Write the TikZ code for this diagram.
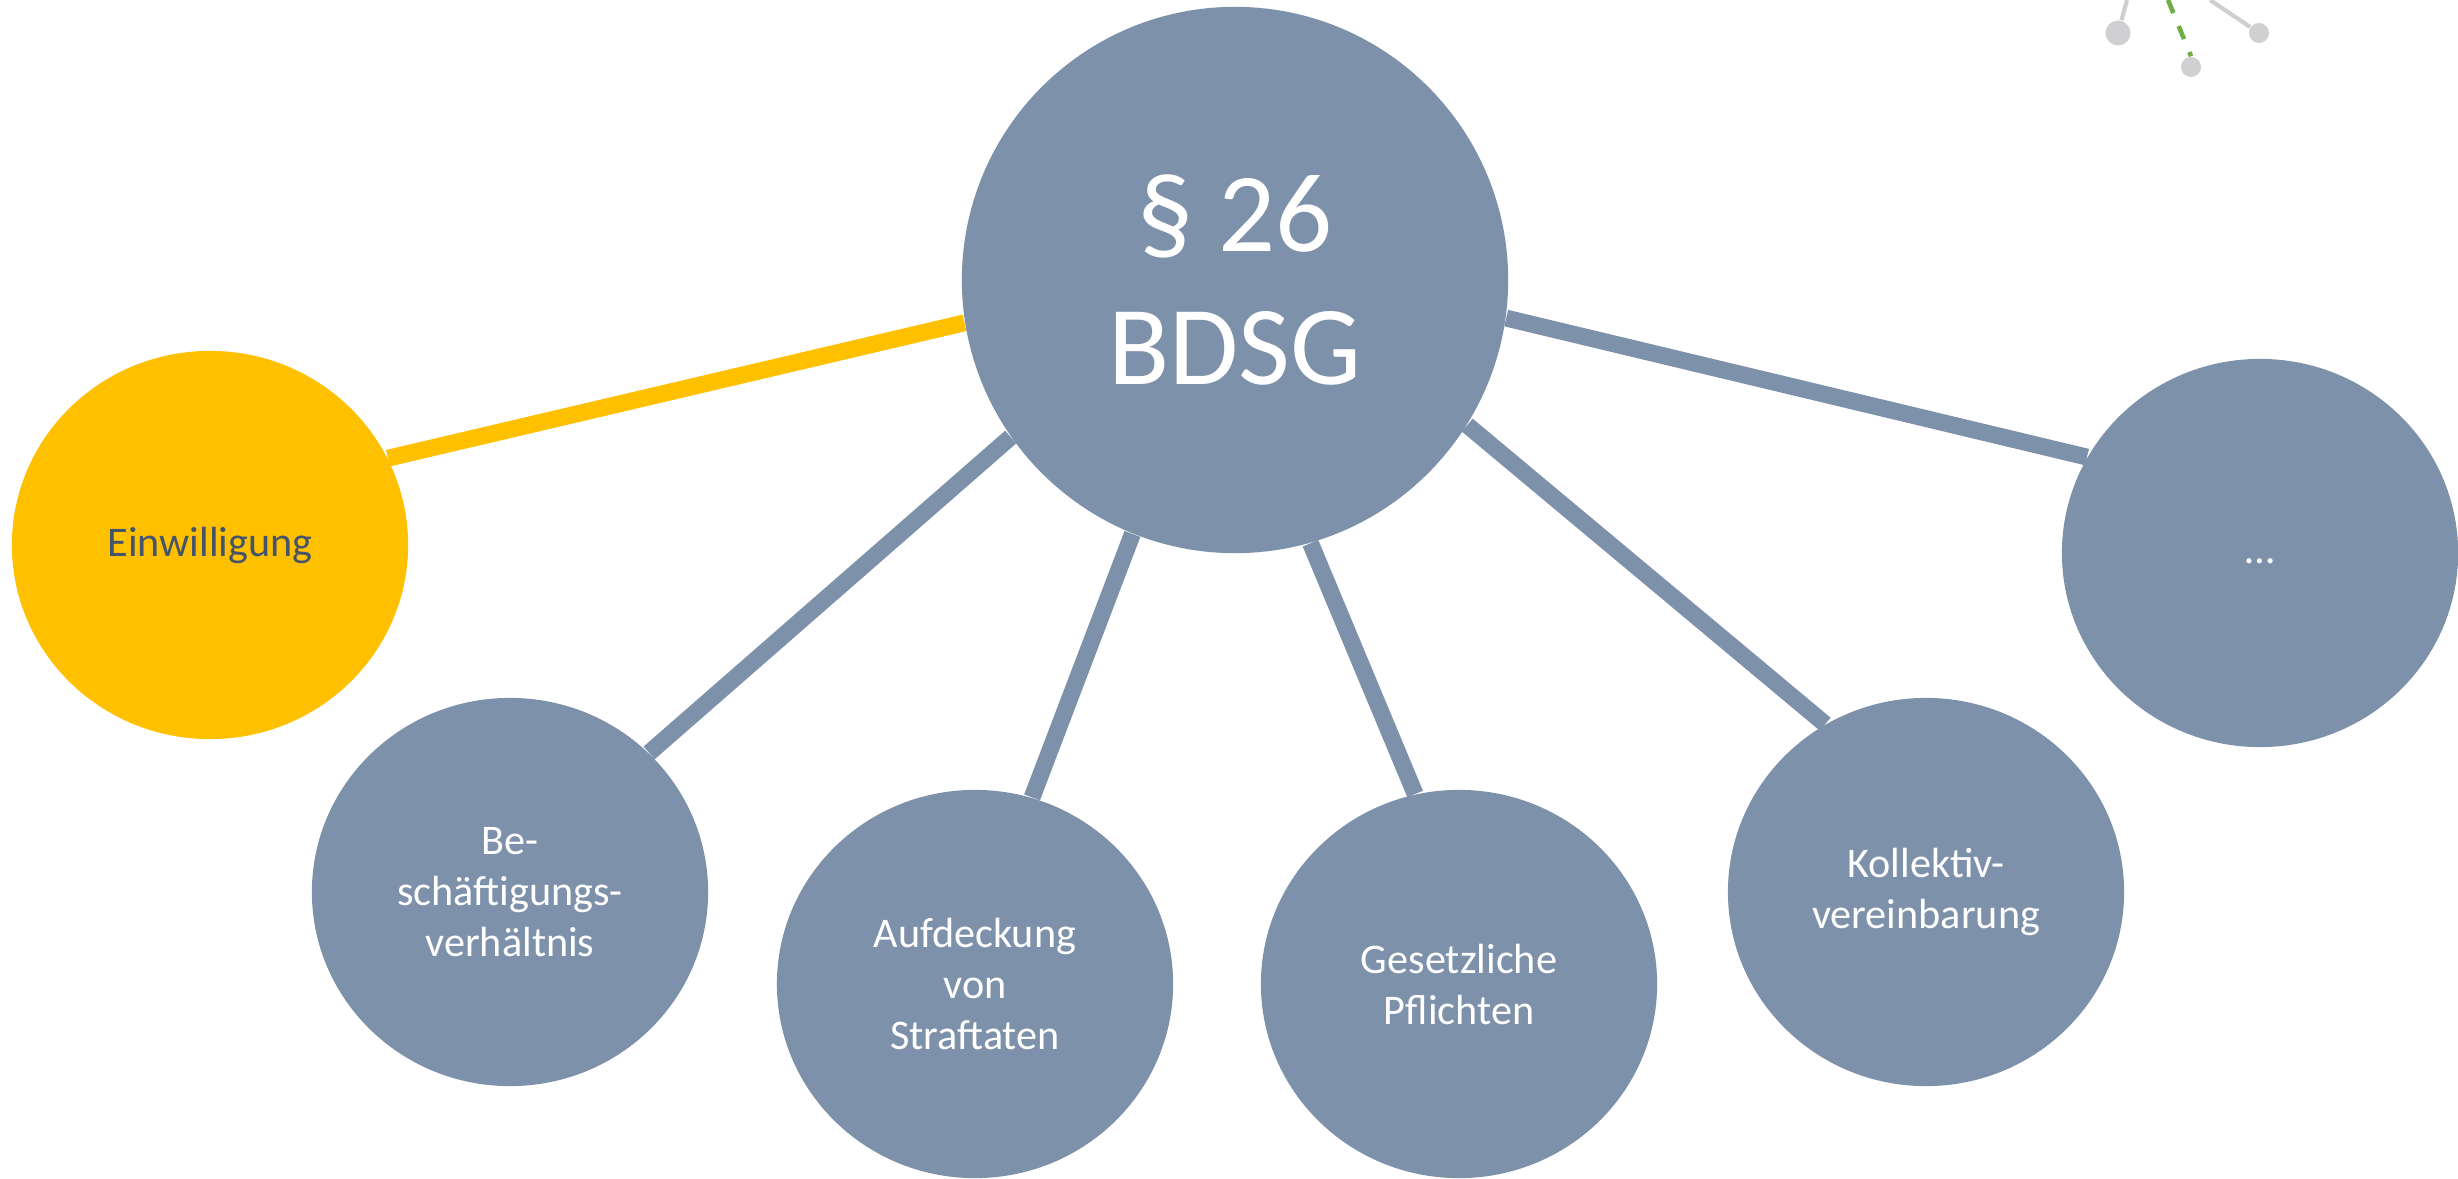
\documentclass[tikz,border=0pt]{standalone}
\usepackage{fontspec}
\setmainfont{Carlito}
\usetikzlibrary{shapes.geometric}
\pgfdeclarelayer{bg}
\pgfdeclarelayer{base}
\pgfsetlayers{base,bg,main}
\definecolor{slate}{HTML}{7E91AA}
\definecolor{gold}{HTML}{FFC000}
\definecolor{darktext}{HTML}{44546A}
\definecolor{decogrey}{HTML}{D0D0D2}
\definecolor{decogreen}{HTML}{70AD47}
\tikzset{
  bubble/.style={ellipse, inner sep=0pt, minimum width=3.96cm, minimum height=3.88cm,
     fill=slate, text=white, align=center, font=\fontsize{12}{14.5}\selectfont},
  link/.style={line width=4.8pt, draw=slate},
  deco/.style={circle, fill=decogrey, inner sep=0pt},
}
\begin{document}
\begin{tikzpicture}[x=0.01cm,y=-0.01cm]
\useasboundingbox (0,0) rectangle (2458,1179);
\begin{pgfonlayer}{base}
\fill[white] (0,0) rectangle (2458,1179);
\end{pgfonlayer}
% central node
\node[circle, fill=slate, inner sep=0pt, minimum size=5.46cm, text=white, align=center,
      font=\fontsize{32}{40}\selectfont] (bdsg) at (1235,280) {\S\ 26\\[-2pt]BDSG};
% surrounding nodes
\node[bubble, fill=gold, text=darktext] (einw) at (210,545) {Einwilligung};
\node[bubble] (besch) at (510,892) {Be-\\schäftigungs-\\verhältnis};
\node[bubble] (aufd) at (975,984) {Aufdeckung\\von\\Straftaten};
\node[bubble] (ges) at (1459,984) {Gesetzliche\\Pflichten};
\node[bubble] (koll) at (1926,892) {Kollektiv-\\vereinbarung};
\node[bubble] (more) at (2260,553) {\strut\dots};
% connectors
\begin{pgfonlayer}{bg}
\draw[link, draw=gold] (einw.26.6) -- (bdsg.189.3);
\draw[link] (besch.45.2) -- (bdsg.215.1);
\draw[link] (aufd.73.7) -- (bdsg.248.7);
\draw[link] (ges.103) -- (bdsg.286.9);
\draw[link] (koll.121.8) -- (bdsg.328.8);
\draw[link] (more.151.6) -- (bdsg.352.9);
\end{pgfonlayer}
% decoration top right
\node[deco, minimum size=0.25cm] (d1) at (2118,33) {};
\node[deco, minimum size=0.2cm] (d2) at (2191,67) {};
\node[deco, minimum size=0.2cm] (d3) at (2259,33) {};
\coordinate (t1) at (2127,0);
\coordinate (t2) at (2168,0);
\coordinate (t3) at (2210,0);
\draw[decogrey, line width=1.2pt] (t1) -- (d1);
\draw[decogreen, line width=1.3pt, dash pattern=on 4pt off 4pt] (t2) -- (d2.north);
\draw[decogrey, line width=1.2pt] (t3) -- (d3);
\end{tikzpicture}
\end{document}
